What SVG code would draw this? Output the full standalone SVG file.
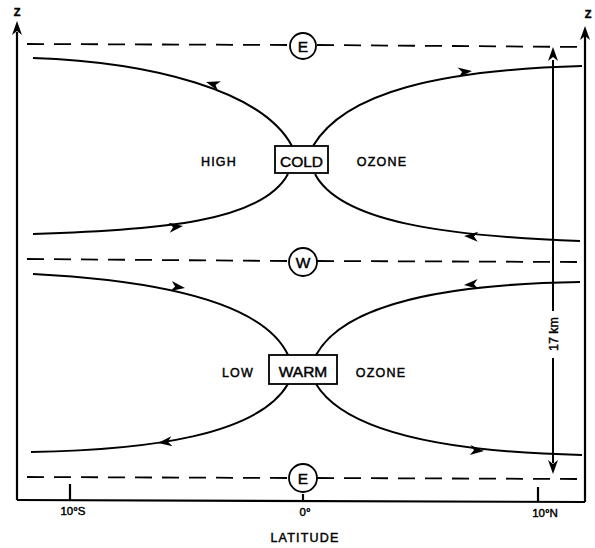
<svg xmlns="http://www.w3.org/2000/svg" width="595" height="548" viewBox="0 0 595 548">
<style>
  .ln { fill: none; stroke: #000; stroke-width: 2; }
  .ax { fill: none; stroke: #000; stroke-width: 2.2; }
  .ds { fill: none; stroke: #000; stroke-width: 1.8; stroke-dasharray: 17 10; }
  .box { fill: #fff; stroke: #000; stroke-width: 1.8; }
  .t { font-family: "Liberation Sans", Arial, sans-serif; fill: #000; stroke: #000; stroke-width: 0.45; text-anchor: middle; }
  .lab { font-size: 12.5px; letter-spacing: 1.2px; }
  .big { font-size: 15.5px; }
  .tick { font-size: 11.5px; }
  .ah { fill: #000; stroke: none; }
</style>
<defs>
  <path id="ah" d="M0,0 L-14,-5 L-10,0 L-14,5 Z"/>
  <path id="axh" d="M0,0 L-14,-5 L-10,0 L-14,5 Z"/>
</defs>
<rect x="0" y="0" width="595" height="548" fill="#fff"/>

<g id="axes">
  <path class="ax" d="M17,500 L17,32"/>
  <use href="#axh" class="ah" transform="translate(17,21) rotate(-90)"/>
  <path class="ax" d="M585,502 L585,36"/>
  <use href="#axh" class="ah" transform="translate(585,26) rotate(-90)"/>
  <path class="ax" d="M17,500 L585,502"/>
  <path class="ax" d="M70,484 L70,500"/>
  <path class="ax" d="M303,494 L303,501"/>
  <path class="ax" d="M538,487 L538,502"/>
  <text class="t" x="17" y="16" font-size="11" font-weight="bold">Z</text>
  <text class="t" x="588" y="18" font-size="11" font-weight="bold">Z</text>
  <text class="t tick" x="73" y="515">10°S</text>
  <text class="t tick" x="305" y="516">0°</text>
  <text class="t tick" x="545" y="517">10°N</text>
  <text class="t lab" x="305" y="542">LATITUDE</text>
</g>

<g id="levels">
  <path class="ds" d="M27,44 L289,45"/>
  <path class="ds" d="M317,45 L582,47"/>
  <path class="ds" d="M27,259 L288,261"/>
  <path class="ds" d="M317,261 L582,262"/>
  <path class="ds" d="M27,477 L289,478"/>
  <path class="ds" d="M317,478 L582,479"/>
</g>

<g id="node-E-top">
  <circle class="box" cx="303" cy="46" r="13"/>
  <text class="t big" x="303" y="51.5">E</text>
</g>
<g id="node-W">
  <circle class="box" cx="303" cy="262" r="14"/>
  <text class="t big" x="303" y="267.5">W</text>
</g>
<g id="node-E-bottom">
  <circle class="box" cx="303" cy="478" r="14"/>
  <text class="t big" x="303" y="483.5">E</text>
</g>

<g id="connectors">
  <path class="ln" d="M33,58 C150,62 262,90 292,146"/>
  <use href="#ah" class="ah" transform="translate(206,82) rotate(197)"/>
  <path class="ln" d="M313,146 C345,92 440,70 582,66"/>
  <use href="#ah" class="ah" transform="translate(472,71) rotate(-6)"/>
  <path class="ln" d="M33,234 C160,230 262,222 288,174"/>
  <use href="#ah" class="ah" transform="translate(183,226) rotate(-7)"/>
  <path class="ln" d="M315,174 C340,222 445,236 580,241"/>
  <use href="#ah" class="ah" transform="translate(464,236) rotate(183)"/>

  <path class="ln" d="M33,274 C150,280 262,300 288,355"/>
  <use href="#ah" class="ah" transform="translate(185,288) rotate(8)"/>
  <path class="ln" d="M316,355 C345,302 450,284 580,282"/>
  <use href="#ah" class="ah" transform="translate(464,285) rotate(176)"/>
  <path class="ln" d="M288,384 C258,435 150,450 31,452"/>
  <use href="#ah" class="ah" transform="translate(158,443) rotate(173)"/>
  <path class="ln" d="M316,384 C345,432 445,452 582,455"/>
  <use href="#ah" class="ah" transform="translate(484,451) rotate(4)"/>
</g>

<g id="node-COLD">
  <rect class="box" x="275" y="146" width="53" height="27"/>
  <text class="t big" x="301.5" y="166.5">COLD</text>
</g>
<g id="label-HIGH"><text class="t lab" x="219" y="166">HIGH</text></g>
<g id="label-OZONE-top"><text class="t lab" x="382" y="166">OZONE</text></g>

<g id="node-WARM">
  <rect class="box" x="269" y="355" width="68" height="29"/>
  <text class="t big" x="303" y="377">WARM</text>
</g>
<g id="label-LOW"><text class="t lab" x="238" y="377">LOW</text></g>
<g id="label-OZONE-bottom"><text class="t lab" x="381" y="377">OZONE</text></g>

<g id="dimension">
  <path class="ln" stroke-width="1.6" d="M553,60 L553,311"/>
  <path class="ln" stroke-width="1.6" d="M553,358 L553,463"/>
  <use href="#ah" class="ah" transform="translate(553,47) rotate(-90)"/>
  <use href="#ah" class="ah" transform="translate(553,474) rotate(90)"/>
  <text class="t" font-size="12.5" transform="translate(557.5,334) rotate(-90)">17 km</text>
</g>
</svg>
